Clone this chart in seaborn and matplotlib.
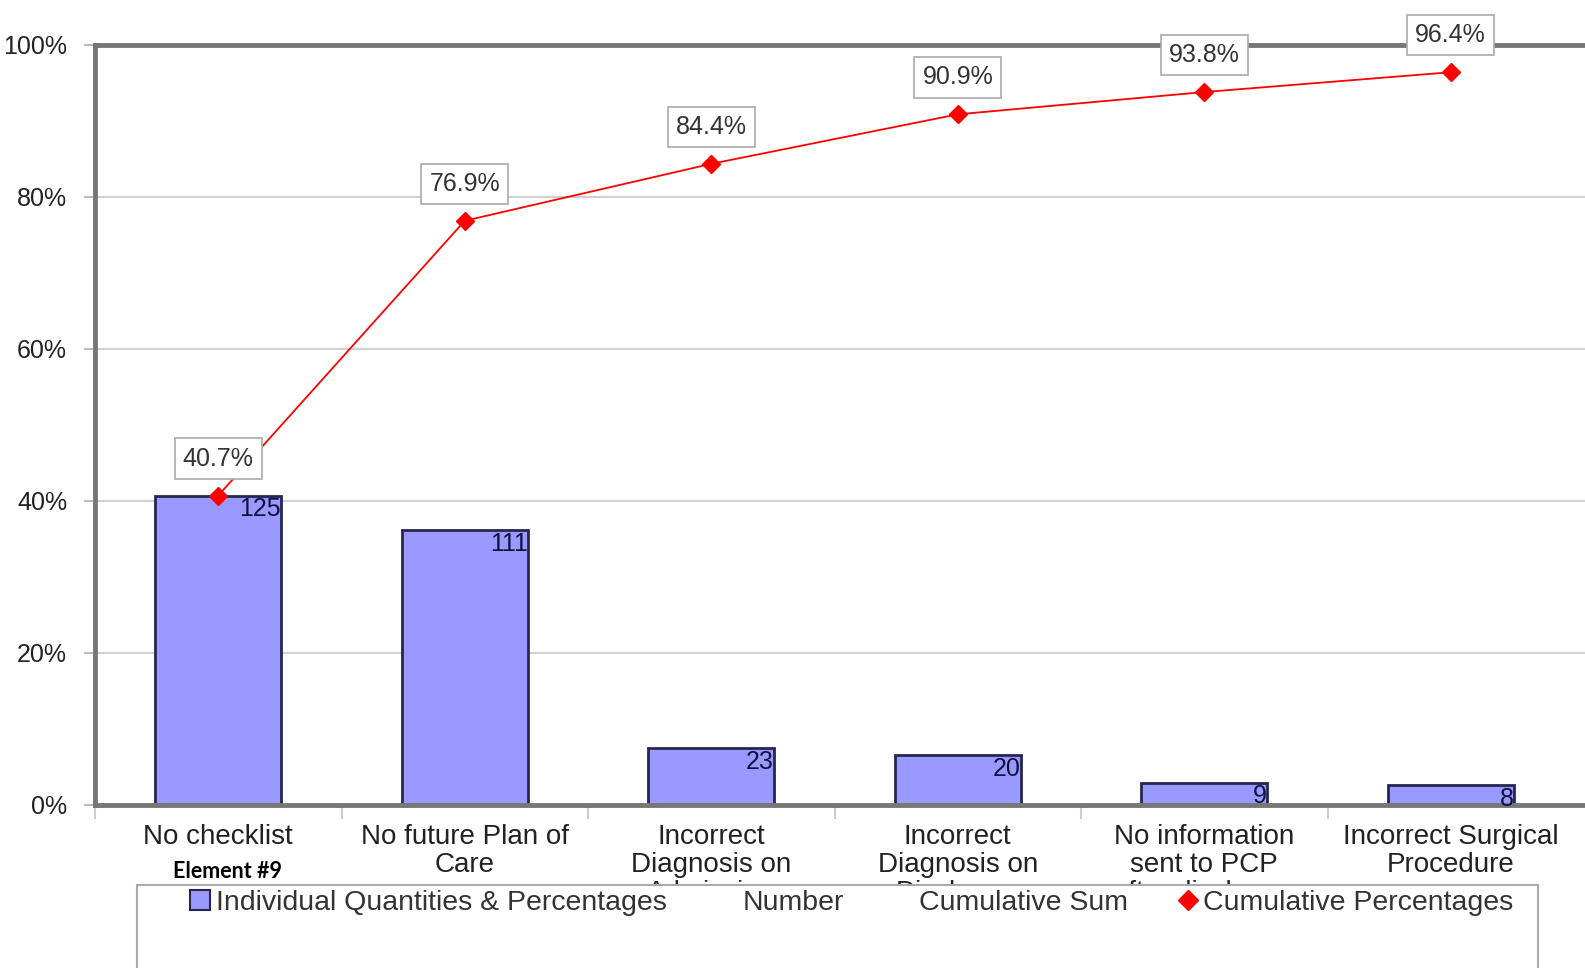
import matplotlib.pyplot as plt
import matplotlib.patches as mpatches
from matplotlib.lines import Line2D
import numpy as np
import pandas as pd
import seaborn as sns

categories = ["No checklist", "No future Plan of\nCare", "Incorrect\nDiagnosis on\nAdmission",
              "Incorrect\nDiagnosis on\nDischarge", "No information\nsent to PCP\nafter discharge",
              "Incorrect Surgical\nProcedure"]
counts = [125, 111, 23, 20, 9, 8]
cum_pct_labels = ["40.7%", "76.9%", "84.4%", "90.9%", "93.8%", "96.4%"]
total = 307

df = pd.DataFrame({"category": categories, "count": counts})
df["pct"] = df["count"] / total * 100
df["cum_pct"] = df["count"].cumsum() / total * 100

sns.set_style("white")
plt.rcParams['font.family'] = ['Liberation Sans', 'DejaVu Sans']

fig = plt.figure(figsize=(15.85, 9.68), dpi=100)
# plot area runs past the right edge of the picture, like the cropped original
ax = fig.add_axes([95/1585, 1 - 805/968, 246.5*6.2/1585, 760/968])

sns.barplot(data=df, x="category", y="pct", color="#9999ff", width=0.51,
            edgecolor="#262650", linewidth=2, saturation=1, ax=ax, zorder=2)

for i, (c, p) in enumerate(zip(df["count"], df["pct"])):
    ax.text(i + 0.255, p - 0.2, str(c), ha="right", va="top", fontsize=18,
            color="#101040", zorder=4)

ax.plot(range(len(df)), df["cum_pct"], color="#ff0000", lw=1.3, marker="D",
        markersize=9, zorder=5)
for i, (v, lab) in enumerate(zip(df["cum_pct"], cum_pct_labels)):
    ax.annotate(lab, (i, v), xytext=(0, 37), textcoords="offset pixels",
                ha="center", va="center", fontsize=18, color="#333333", zorder=6,
                bbox=dict(boxstyle="square,pad=0.33", fc="white", ec="#aaaaaa", lw=1.2),
                annotation_clip=False)

ax.set_xlim(-0.5, 5.7)
ax.set_ylim(0, 100)
ax.set_yticks(np.arange(0, 101, 20))
ax.set_yticklabels([f"{t}%" for t in range(0, 101, 20)], fontsize=18, color="#222222")
ax.yaxis.grid(True, color="#d0d0d0", lw=1.5, zorder=0)
ax.set_axisbelow(True)
ax.tick_params(axis="y", length=8, width=1.5, color="#bbbbbb", pad=12, left=True)
ax.tick_params(axis="x", length=0, pad=14, labelsize=20, labelcolor="#222222")
for t in ax.get_xticklabels():
    t.set_linespacing(1.1)
ax.set_xticks(np.arange(-0.5, 5.0, 1), minor=True)
ax.tick_params(axis="x", which="minor", length=10, width=1.5, color="#cccccc", bottom=True)
ax.set_xlabel("")
ax.set_ylabel("")
for s in ["left", "bottom", "top"]:
    ax.spines[s].set_color("#777777")
    ax.spines[s].set_linewidth(3.5)
ax.spines["right"].set_visible(False)

fig.text(228/1585, 1 - 872/968, "Element #9", ha="center", va="center",
         fontsize=15.5, fontweight="bold", family=["Lato", "DejaVu Sans"], color="black")

fig.patches.append(mpatches.Rectangle((137/1585, -0.05), 1401/1585, 0.05 + (968 - 885)/968,
                                      transform=fig.transFigure, fc="white", ec="#aaaaaa",
                                      lw=1.5, zorder=4))
handles = [mpatches.Patch(fc="#9999ff", ec="#262650", lw=1.5),
           Line2D([], [], lw=0),
           Line2D([], [], lw=0),
           Line2D([], [], lw=0, marker="D", color="#ff0000", markersize=10)]
labels = ["Individual Quantities & Percentages", "Number", "Cumulative Sum", "Cumulative Percentages"]
leg = fig.legend(handles, labels, ncol=4, loc="center left",
                 bbox_to_anchor=(176/1585, 1 - 903/968), frameon=False, fontsize=20.5,
                 handlelength=0.7, handletextpad=0.2, columnspacing=1.75, borderpad=0,
                 labelcolor="#333333")
leg.set_zorder(6)

fig.savefig("out.png", dpi=100)
